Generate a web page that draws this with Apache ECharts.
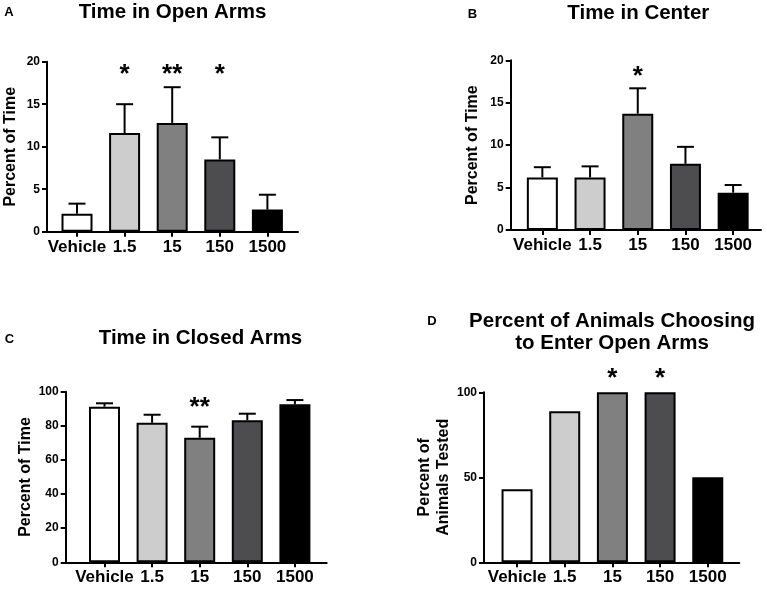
<!DOCTYPE html>
<html>
<head>
<meta charset="utf-8">
<script src="https://cdn.jsdelivr.net/npm/echarts@6/dist/echarts.min.js"></script>
<style>
  html, body { margin: 0; padding: 0; background: #fff; }
  #chart { width: 767px; height: 589px; }
</style>
</head>
<body>
<div id="chart"></div>
<script>
// ---------- data ----------
const categories = ['Vehicle', '1.5', '15', '150', '1500'];
const barColors = ['#ffffff', '#cdcdcd', '#808080', '#4d4c4e', '#000000'];

const openArmsMean = [2.1, 11.6, 12.8, 8.5, 2.6];
const openArmsSem = [1.2, 3.4, 4.2, 2.6, 1.75];
const openArmsStars = ['', '*', '**', '*', ''];

const centerMean = [6.2, 6.2, 13.7, 7.8, 4.4];
const centerSem = [1.2, 1.3, 3.0, 2.0, 0.9];
const centerStars = ['', '', '*', '', ''];

const closedArmsMean = [91.2, 81.8, 73.0, 83.2, 92.6];
const closedArmsSem = [2.0, 4.7, 6.5, 3.9, 2.5];
const closedArmsStars = ['', '', '**', '', ''];

const enterOpenPct = [42.9, 88.9, 100, 100, 50];
const enterOpenStars = ['', '', '*', '*', ''];

// ---------- layout ----------
const FONT = '"Liberation Sans", Arial, Helvetica, sans-serif';

const panels = [
  { frame: { left: 45, top: 61.7, width: 253, height: 170 }, bars: { left: 53.2, width: 238 },
    yMax: 20, yInterval: 5, yName: 'Percent of Time', nameGap: 27, nameLH: 19,
    mean: openArmsMean, sem: openArmsSem, stars: openArmsStars, starLevel: 18.4 },
  { frame: { left: 510.7, top: 60.3, width: 250.3, height: 169.7 }, bars: { left: 518.5, width: 238.5 },
    yMax: 20, yInterval: 5, yName: 'Percent of Time', nameGap: 28.5, nameLH: 19,
    mean: centerMean, sem: centerSem, stars: centerStars, starLevel: 18.0 },
  { frame: { left: 65.7, top: 391.7, width: 261, height: 170.6 }, bars: { left: 80.7, width: 238 },
    yMax: 100, yInterval: 20, yName: 'Percent of Time', nameGap: 25.5, nameLH: 19,
    mean: closedArmsMean, sem: closedArmsSem, stars: closedArmsStars, starLevel: 90.4 },
  { frame: { left: 484, top: 392.3, width: 255.3, height: 170 }, bars: { left: 493.2, width: 238.4 },
    yMax: 100, yInterval: 50, yName: 'Percent of\nAnimals Tested', nameGap: 29, nameLH: 19,
    mean: enterOpenPct, sem: null, stars: enterOpenStars, starLevel: 108.2 }
];

const titles = [
  { text: 'Time in Open Arms', x: 172.5, y: 12.5 },
  { text: 'Time in Center', x: 638.3, y: 13.5 },
  { text: 'Time in Closed Arms', x: 200.5, y: 338.5 },
  { text: 'Percent of Animals Choosing\nto Enter Open Arms', x: 612, y: 332.5 }
];
const letters = [
  { text: 'A', x: 9, y: 12.5 },
  { text: 'B', x: 472.5, y: 14 },
  { text: 'C', x: 9.5, y: 339 },
  { text: 'D', x: 432, y: 321 }
];

// ---------- build option ----------
const grid = [], xAxis = [], yAxis = [], series = [];

panels.forEach((p, k) => {
  const fg = grid.length;
  grid.push({ left: p.frame.left, top: p.frame.top, width: p.frame.width, height: p.frame.height });
  const bg = grid.length;
  grid.push({ left: p.bars.left, top: p.frame.top, width: p.bars.width, height: p.frame.height });

  // frame axes (x axis line + visible y axis)
  xAxis.push({
    gridIndex: fg, type: 'value', min: 0, max: 1, position: 'bottom',
    axisLine: { show: true, onZero: false, lineStyle: { color: '#000', width: 2 } },
    axisTick: { show: false }, axisLabel: { show: false }, splitLine: { show: false }
  });
  yAxis.push({
    gridIndex: fg, type: 'value', min: 0, max: p.yMax, interval: p.yInterval,
    name: p.yName, nameLocation: 'middle', nameRotate: 90, nameGap: p.nameGap,
    nameTextStyle: { fontFamily: FONT, fontWeight: 'bold', fontSize: 16, color: '#000', lineHeight: p.nameLH, align: 'center' },
    axisLine: { show: true, lineStyle: { color: '#000', width: 2 } },
    axisTick: { show: true, length: 5, lineStyle: { color: '#000', width: 2 } },
    axisLabel: { fontFamily: FONT, fontWeight: 'bold', fontSize: 12, color: '#000', margin: 7 },
    splitLine: { show: false }
  });
  // bar axes
  const bx = xAxis.length;
  xAxis.push({
    gridIndex: bg, type: 'category', data: categories,
    axisLine: { show: false },
    axisTick: { show: true, alignWithLabel: true, length: 5, lineStyle: { color: '#000', width: 2 } },
    axisLabel: { interval: 0, fontFamily: FONT, fontWeight: 'bold', fontSize: 17, color: '#000', margin: 7 },
    splitLine: { show: false }
  });
  const by = yAxis.length;
  yAxis.push({ gridIndex: bg, type: 'value', min: 0, max: p.yMax, show: false });

  series.push({
    type: 'bar', xAxisIndex: bx, yAxisIndex: by, barWidth: 31,
    data: p.mean.map((v, i) => ({ value: v, itemStyle: { color: barColors[i] } })),
    itemStyle: { borderColor: '#000', borderWidth: 2 },
    silent: true, animation: false, z: 2
  });

  if (p.sem) {
    series.push({
      type: 'custom', xAxisIndex: bx, yAxisIndex: by, z: 3, animation: false, silent: true,
      data: p.mean.map((m, i) => [i, m, m + p.sem[i]]),
      renderItem: function (params, api) {
        const a = api.coord([api.value(0), api.value(1)]);
        const b = api.coord([api.value(0), api.value(2)]);
        const hw = 8.5;
        return {
          type: 'group',
          children: [
            { type: 'line', shape: { x1: a[0], y1: a[1], x2: b[0], y2: b[1] }, style: { stroke: '#000', lineWidth: 2 } },
            { type: 'line', shape: { x1: b[0] - hw, y1: b[1], x2: b[0] + hw, y2: b[1] }, style: { stroke: '#000', lineWidth: 2 } }
          ]
        };
      }
    });
  }

  const stars = p.stars;
  series.push({
    type: 'custom', xAxisIndex: bx, yAxisIndex: by, z: 4, clip: false, animation: false, silent: true,
    data: stars.map((s, i) => [i, p.starLevel]),
    renderItem: function (params, api) {
      const s = stars[params.dataIndex];
      if (!s) return null;
      const c = api.coord([api.value(0), api.value(1)]);
      return {
        type: 'text', x: c[0], y: c[1],
        style: { text: s, fill: '#000', font: 'bold 26px ' + FONT, align: 'center', verticalAlign: 'middle' }
      };
    }
  });
});

const graphic = [];
titles.forEach(t => graphic.push({
  type: 'text', x: t.x, y: t.y, silent: true,
  style: { text: t.text, fill: '#000', font: 'bold 20.5px ' + FONT, align: 'center', verticalAlign: 'middle', lineHeight: 22 }
}));
letters.forEach(t => graphic.push({
  type: 'text', x: t.x, y: t.y, silent: true,
  style: { text: t.text, fill: '#000', font: 'bold 13px ' + FONT, align: 'center', verticalAlign: 'middle' }
}));

const chart = echarts.init(document.getElementById('chart'), null, { renderer: 'canvas' });
chart.setOption({
  backgroundColor: '#ffffff',
  animation: false,
  grid, xAxis, yAxis, series, graphic
});
</script>
</body>
</html>
